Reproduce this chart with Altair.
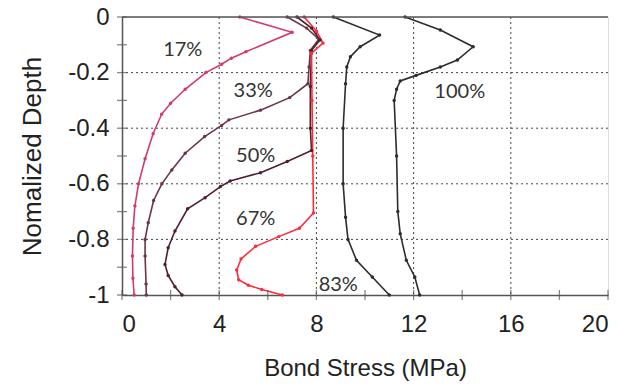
import altair as alt
import pandas as pd

# Bond stress profiles along normalized depth, one per load level
s17_x = [4.85, 7.0, 5.1, 4.5, 4.1, 3.45, 2.6, 2.0, 1.63, 1.28, 0.95, 0.68, 0.53, 0.46, 0.43, 0.45, 0.5]
s17_y = [0.0, -0.055, -0.125, -0.148, -0.17, -0.2, -0.26, -0.31, -0.35, -0.42, -0.51, -0.6, -0.68, -0.76, -0.86, -0.94, -1.0]

s33_x = [6.8, 7.6, 8.1, 7.75, 7.7, 7.65, 6.9, 5.7, 4.4, 4.1, 3.4, 2.6, 2.05, 1.64, 1.3, 1.08, 0.95, 0.95, 0.99, 1.0]
s33_y = [0.0, -0.04, -0.08, -0.12, -0.18, -0.24, -0.29, -0.335, -0.37, -0.39, -0.43, -0.49, -0.55, -0.6, -0.66, -0.74, -0.8, -0.86, -0.96, -1.0]

s50_x = [7.2, 7.8, 8.15, 7.8, 7.75, 7.75, 7.8, 6.8, 5.7, 4.45, 4.05, 3.42, 2.7, 2.18, 1.9, 1.77, 1.9, 2.18, 2.47]
s50_y = [0.0, -0.04, -0.083, -0.12, -0.25, -0.4, -0.48, -0.52, -0.56, -0.59, -0.61, -0.65, -0.69, -0.77, -0.83, -0.89, -0.93, -0.97, -1.0]

s67_x = [7.5, 8.0, 8.27, 7.8, 7.82, 7.85, 7.88, 7.3, 6.45, 5.5, 4.9, 4.72, 4.8, 5.2, 5.75, 6.6]
s67_y = [0.0, -0.05, -0.094, -0.13, -0.3, -0.5, -0.705, -0.76, -0.79, -0.825, -0.87, -0.91, -0.945, -0.965, -0.98, -1.0]

s83_x = [8.7, 10.6, 9.8, 9.4, 9.25, 9.2, 9.1, 9.1, 9.2, 9.3, 9.65, 10.3, 11.0]
s83_y = [0.0, -0.065, -0.107, -0.143, -0.18, -0.24, -0.4, -0.6, -0.72, -0.8, -0.875, -0.935, -1.0]

s100_x = [11.65, 13.1, 14.45, 13.8, 13.1, 12.1, 11.45, 11.3, 11.2, 11.3, 11.35, 11.45, 11.7, 12.05, 12.25]
s100_y = [0.0, -0.047, -0.107, -0.155, -0.18, -0.21, -0.23, -0.26, -0.3, -0.5, -0.7, -0.78, -0.875, -0.935, -1.0]

series_names = ["17%", "33%", "50%", "67%", "83%", "100%"]
series_x = [s17_x, s33_x, s50_x, s67_x, s83_x, s100_x]
series_y = [s17_y, s33_y, s50_y, s67_y, s83_y, s100_y]
series_colors = ["#d23a6c", "#6a3646", "#4e1f2c", "#ff2b3a", "#2c2c2c", "#2c2c2c"]

# Curve labels
label_text = ["17%", "33%", "50%", "67%", "83%", "100%"]
label_x = [2.5, 5.4, 5.5, 5.5, 8.9, 13.9]
label_y = [-0.12, -0.265, -0.5, -0.725, -0.965, -0.27]

x_major = [0, 4, 8, 12, 16, 20]
x_grid = [4, 8, 12, 16]
x_minor = [0, 2, 4, 6, 8, 10, 12, 14, 16, 18, 20]
y_major = [0, -0.2, -0.4, -0.6, -0.8, -1]
y_grid = [-0.2, -0.4, -0.6, -0.8]
y_minor = [0, -0.1, -0.2, -0.3, -0.4, -0.5, -0.6, -0.7, -0.8, -0.9, -1]

rows = []
for name, xs, ys in zip(series_names, series_x, series_y):
    for i, (xv, yv) in enumerate(zip(xs, ys)):
        rows.append({"series": name, "stress": xv, "depth": yv, "idx": i})
curves = pd.DataFrame(rows)

labels = pd.DataFrame({"text": label_text, "stress": label_x, "depth": label_y})

FONT = "Liberation Sans"
AX = "#555555"
GRID = "#444444"

x_scale = alt.Scale(domain=[0, 20], nice=False, zero=False)
y_scale = alt.Scale(domain=[-1, 0], nice=False, zero=False)
color_scale = alt.Scale(domain=series_names, range=series_colors)

x_enc = alt.X(
    "stress:Q",
    scale=x_scale,
    title="Bond Stress (MPa)",
    axis=alt.Axis(
        values=x_major,
        ticks=False,
        grid=False,
        domainColor=AX,
        domainWidth=1.5,
        labelFont=FONT,
        labelFontSize=24,
        labelColor="#222222",
        labelPadding=17,
        titleFont=FONT,
        titleFontSize=24,
        titleFontWeight="normal",
        titleColor="#222222",
        titlePadding=20,
    ),
)
y_enc = alt.Y(
    "depth:Q",
    scale=y_scale,
    title="Nomalized Depth",
    axis=alt.Axis(
        values=y_major,
        ticks=False,
        grid=False,
        domainColor=AX,
        domainWidth=1.5,
        labelFont=FONT,
        labelFontSize=24,
        labelColor="#222222",
        labelPadding=13,
        labelExpr="datum.value == 0 ? '0' : datum.value == -1 ? '-1' : '-' + format(-datum.value, '.1f')",
        titleFont=FONT,
        titleFontSize=26,
        titleFontWeight="normal",
        titleColor="#222222",
        titlePadding=22,
    ),
)

# Dotted grid at the inner major values
x_grid_layer = alt.Chart(pd.DataFrame({"stress": x_grid})).mark_rule(
    color=GRID, strokeWidth=1, strokeDash=[2, 3]
).encode(x=alt.X("stress:Q", scale=x_scale))

y_grid_layer = alt.Chart(pd.DataFrame({"depth": y_grid})).mark_rule(
    color=GRID, strokeWidth=1, strokeDash=[2, 3]
).encode(y=alt.Y("depth:Q", scale=y_scale))

lines = alt.Chart(curves).mark_line(strokeWidth=1.6).encode(
    x=x_enc,
    y=y_enc,
    color=alt.Color("series:N", scale=color_scale, legend=None),
    order="idx:Q",
    detail="series:N",
)

points = alt.Chart(curves).mark_point(filled=True, size=12, opacity=1).encode(
    x=alt.X("stress:Q", scale=x_scale),
    y=alt.Y("depth:Q", scale=y_scale),
    color=alt.Color("series:N", scale=color_scale, legend=None),
)

# Frame line along the top of the plot
top_line = alt.Chart(pd.DataFrame({"depth": [0]})).mark_rule(color=AX, strokeWidth=1.5).encode(
    y=alt.Y("depth:Q", scale=y_scale)
)

# Tick marks crossing the axes, majors and minors
x_ticks = alt.Chart(pd.DataFrame({"stress": x_minor, "depth": [-1] * len(x_minor)})).mark_tick(
    orient="vertical", color=AX, size=10, thickness=1.3
).encode(x=alt.X("stress:Q", scale=x_scale), y=alt.Y("depth:Q", scale=y_scale))

y_ticks = alt.Chart(pd.DataFrame({"depth": y_minor, "stress": [0] * len(y_minor)})).mark_tick(
    orient="horizontal", color=AX, size=10, thickness=1.3
).encode(x=alt.X("stress:Q", scale=x_scale), y=alt.Y("depth:Q", scale=y_scale))

texts = alt.Chart(labels).mark_text(font="Lato", fontSize=20, color="#333333").encode(
    x=alt.X("stress:Q", scale=x_scale),
    y=alt.Y("depth:Q", scale=y_scale),
    text="text:N",
)

chart = alt.layer(x_grid_layer, y_grid_layer, lines, points, top_line, x_ticks, y_ticks, texts).properties(
    width=486,
    height=278,
    autosize=alt.AutoSizeParams(type="none"),
    padding={"left": 122, "top": 17, "right": 23, "bottom": 90},
).configure_view(stroke=None).configure(background="white")

chart.save("out.html", embed_options={"renderer": "svg", "actions": False})
